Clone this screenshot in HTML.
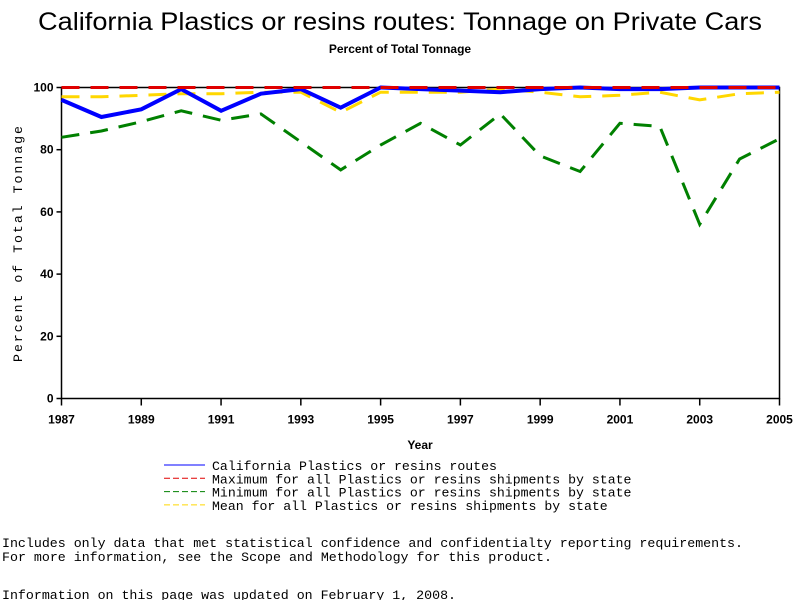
<!DOCTYPE html>
<html><head><meta charset="utf-8"><style>
html,body{margin:0;padding:0;background:#fff;width:800px;height:600px;overflow:hidden}
svg{display:block}
.mono{font-family:"Liberation Mono",monospace;font-size:13.2px}
.tick{font-family:"Liberation Sans",sans-serif;font-weight:bold;font-size:12px}
</style></head><body>
<svg id="chart" width="800" height="600">
<text x="400" y="30" text-anchor="middle" font-family="Liberation Sans, sans-serif" font-size="25" textLength="724" lengthAdjust="spacingAndGlyphs">California Plastics or resins routes: Tonnage on Private Cars</text>
<text x="400" y="53" text-anchor="middle" class="tick" font-size="11">Percent of Total Tonnage</text>
<g id="plot"></g>
<text transform="translate(22,243) rotate(-90)" text-anchor="middle" class="mono" font-size="12" letter-spacing="2">Percent of Total Tonnage</text>
<text x="420" y="449" text-anchor="middle" class="tick">Year</text>
<g id="legend"></g>
<text x="2" y="547" class="mono" textLength="741" lengthAdjust="spacingAndGlyphs">Includes only data that met statistical confidence and confidentialty reporting requirements.</text>
<text x="2" y="561" class="mono" textLength="550" lengthAdjust="spacingAndGlyphs">For more information, see the Scope and Methodology for this product.</text>
<text x="2" y="599" class="mono" textLength="454" lengthAdjust="spacingAndGlyphs">Information on this page was updated on February 1, 2008.</text>
</svg>
<script>
const years=[1987,1988,1989,1990,1991,1992,1993,1994,1995,1996,1997,1998,1999,2000,2001,2002,2003,2004,2005];
const california=[96,90.5,93,99.5,92.5,98,99.5,93.5,100,99.5,99,98.5,99.5,100,99.5,99.5,100,100,100];
const maximum=[100,100,100,100,100,100,100,100,100,100,100,100,100,100,100,100,100,100,100];
const minimum=[84,86,89,92.5,89.5,91.5,82.5,73.5,81.5,88.5,81.5,91.5,78,73,88.5,87.5,56,77,83.5];
const mean=[97,97,97.5,98,98,98.5,98.5,92,98.5,98.5,98.5,99.5,98.5,97,97.5,98.5,96,98,98.5];
const yTicks=[0,20,40,60,80,100];
const xTicks=[1987,1989,1991,1993,1995,1997,1999,2001,2003,2005];
const legendLabels=["California Plastics or resins routes","Maximum for all Plastics or resins shipments by state","Minimum for all Plastics or resins shipments by state","Mean for all Plastics or resins shipments by state"];

const NS="http://www.w3.org/2000/svg";
const X0=61.5,X1=779.5,Y0=398.5,Y1=87.5;
const xs=v=>X0+(v-1987)/(2005-1987)*(X1-X0);
const ys=v=>Y0-v/100*(Y0-Y1);
function mk(tag,attrs,parent){const e=document.createElementNS(NS,tag);for(const k in attrs)e.setAttribute(k,attrs[k]);parent.appendChild(e);return e;}
const plot=document.getElementById('plot');
const frame=mk('rect',{x:X0,y:Y1,width:X1-X0,height:Y0-Y1,fill:'none',stroke:'#000','stroke-width':1.5},plot);


yTicks.forEach(t=>{
  const l=mk('line',{x1:X0-5,x2:X0,y1:ys(t),y2:ys(t),stroke:'#000','stroke-width':1.5},plot);
  
  
  const tx=mk('text',{x:X0-8,y:ys(t)+4,'text-anchor':'end',class:'tick'},plot);
  tx.textContent=t;
  
  
});
xTicks.forEach(t=>{
  const l=mk('line',{x1:xs(t),x2:xs(t),y1:Y0,y2:Y0+7,stroke:'#000','stroke-width':1.5},plot);
  
  
  const tx=mk('text',{x:xs(t),y:Y0+25,'text-anchor':'middle',class:'tick'},plot);
  tx.textContent=t;
  
  
});
function series(vals,color,w,dash,name){
  const d=vals.map((v,i)=>(i?'L':'M')+xs(years[i]).toFixed(1)+','+ys(v).toFixed(1)).join('');
  const p=mk('path',{d:d,fill:'none',stroke:color,'stroke-width':w,'stroke-dasharray':dash},plot);
  
  
}
series(minimum,'#008000',3,'18,11','series-minimum');
series(mean,'#ffd700',3,'18,11','series-mean');
series(california,'#0000ff',4,'none','series-california');
series(maximum,'#e00000',3,'18,11','series-maximum');

const legend=document.getElementById('legend');
const lc=['#0000ff','#e00000','#008000','#ffd700'];
legendLabels.forEach((lab,i)=>{
  const y=468+i*13.3;
  const l=mk('line',{x1:164,x2:205,y1:y-3,y2:y-3,stroke:lc[i],'stroke-width':1,'stroke-dasharray':i?'6,3':'none'},legend);
  
  
  const t=mk('text',{x:212,y:y+2,class:'mono'},legend);
  t.textContent=lab;
  
  
});
</script>
</body></html>
